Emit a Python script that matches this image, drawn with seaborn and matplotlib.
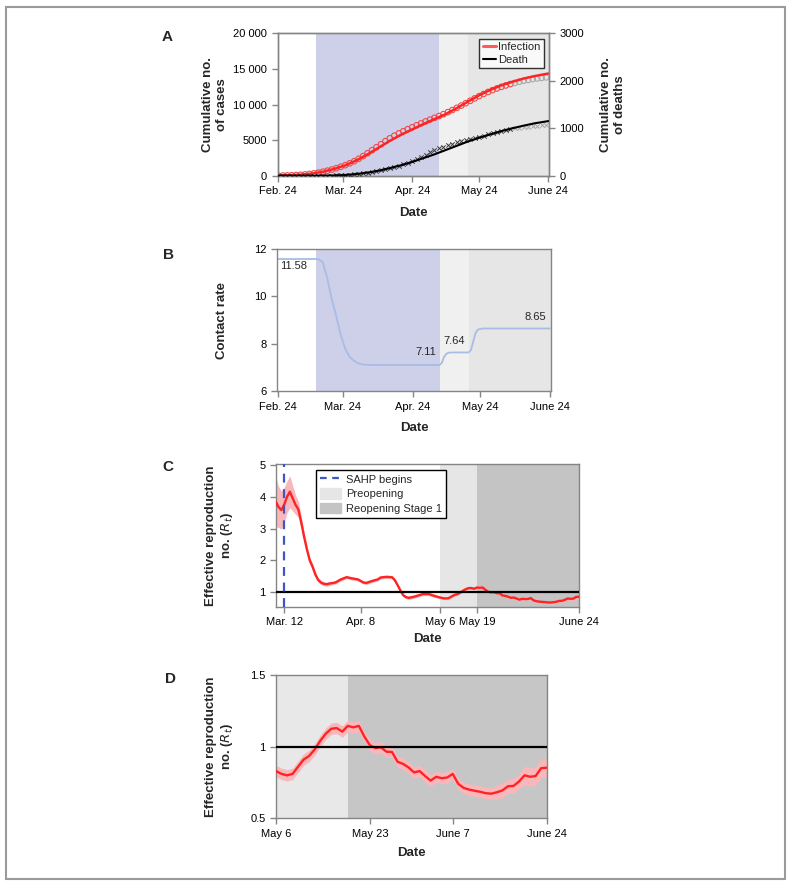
import matplotlib
matplotlib.use("Agg")
import matplotlib.pyplot as plt
import matplotlib.patches as mpatches
from matplotlib.lines import Line2D
import seaborn as sns
import pandas as pd

# ---- data ----
start = pd.Timestamp("2020-02-24")

# panel A: model fits (day offset from Feb 24)
model_days = [0, 5, 10, 15, 20, 25, 30, 35, 40, 45, 50, 55, 60, 65, 70, 75, 80,
              85, 90, 95, 100, 105, 110, 115, 121]
model_cases = [50, 80, 150, 300, 550, 950, 1450, 2150, 3000, 3950, 4900, 5750,
               6500, 7250, 7950, 8650, 9500, 10400, 11300, 12050, 12700, 13200,
               13650, 14000, 14350]
model_deaths = [0, 0, 0, 0, 0, 5, 15, 35, 65, 105, 160, 220, 290, 370, 450, 540,
                630, 720, 800, 870, 940, 1000, 1055, 1105, 1150]

# panel A: observed data, every 2 days
obs_days = list(range(0, 121, 2))
obs_cases = [0, 20, 40, 60, 90, 130, 180, 250, 330, 430, 560, 700, 860, 1050,
             1260, 1480, 1740, 2030, 2370, 2750, 3150, 3580, 4000, 4420, 4850,
             5250, 5620, 5950, 6250, 6530, 6800, 7080, 7350, 7620, 7880, 8130,
             8380, 8640, 8920, 9220, 9530, 9850, 10180, 10520, 10860, 11180,
             11480, 11760, 12020, 12260, 12480, 12680, 12870, 13040, 13200,
             13340, 13460, 13570, 13660, 13740, 13810]
obs_deaths = [0, 0, 0, 0, 0, 0, 0, 0, 0, 0, 0, 1, 3, 5, 8, 14, 20, 28, 40, 52,
              66, 80, 96, 116, 138, 160, 184, 210, 240, 270, 305, 345, 390, 440,
              490, 540, 580, 615, 645, 672, 700, 725, 752, 778, 800, 818, 842,
              868, 895, 922, 948, 968, 985, 1000, 1012, 1022, 1032, 1042, 1050,
              1060, 1068]
fit_cutoff = 106  # later data shown in grey

# panel B: contact rate
contact_days = [0, 18, 20, 22, 24, 26, 28, 30, 32, 34, 36, 38, 42, 72, 73, 74,
                75, 76, 78, 85, 86, 87, 88, 89, 91, 121]
contact_rate = [11.58, 11.58, 11.45, 10.8, 9.9, 9.2, 8.4, 7.8, 7.45, 7.28, 7.18,
                7.13, 7.11, 7.11, 7.2, 7.45, 7.58, 7.63, 7.64, 7.64, 7.75, 8.1,
                8.45, 8.6, 8.65, 8.65]

# panels C/D: effective reproduction number (day offset from Mar 12)
rt_days = [-3, -2, -1, 0, 1, 2, 3, 4, 5, 6, 7, 8, 9, 10, 11, 12, 13, 14, 15, 16,
           18, 20, 22, 24, 26, 28, 29, 31, 33, 34, 36, 38, 39, 40, 41, 42, 43,
           44, 46, 49, 51, 53] + list(range(55, 105))
rt_vals = [3.85, 3.68, 3.58, 3.75, 4.0, 4.16, 3.95, 3.75, 3.6, 3.2, 2.75, 2.35,
           2.0, 1.8, 1.55, 1.38, 1.3, 1.26, 1.25, 1.27, 1.3, 1.4, 1.47, 1.43,
           1.4, 1.3, 1.29, 1.35, 1.4, 1.46, 1.48, 1.47, 1.38, 1.22, 1.05, 0.9,
           0.84, 0.82, 0.86, 0.94, 0.94, 0.88,
           0.83, 0.81, 0.80, 0.81, 0.86, 0.91, 0.935, 0.98, 1.04, 1.09,
           1.125, 1.13, 1.105, 1.145, 1.135, 1.145, 1.07, 1.01, 0.99, 0.995,
           0.965, 0.963, 0.895, 0.88, 0.855, 0.82, 0.83, 0.795, 0.763, 0.79,
           0.78, 0.785, 0.81, 0.74, 0.712, 0.70, 0.692, 0.685, 0.675, 0.672,
           0.682, 0.695, 0.724, 0.726, 0.757, 0.80, 0.79, 0.795, 0.85, 0.853]
rt_half = [0.78, 0.65, 0.6, 0.55, 0.5, 0.5, 0.4, 0.3, 0.25, 0.2, 0.15, 0.12, 0.1,
           0.1, 0.08, 0.07, 0.07, 0.06, 0.06, 0.06, 0.05, 0.05, 0.05, 0.05, 0.05,
           0.05, 0.05, 0.05, 0.05, 0.05, 0.05, 0.05, 0.05, 0.05, 0.05, 0.05,
           0.05, 0.05, 0.05, 0.05, 0.05, 0.05] + [0.04] * 40 + [0.05] * 5 + [0.065] * 5

a_ticks = ["Feb. 24", "Mar. 24", "Apr. 24", "May 24", "June 24"]
a_tick_dates = ["2020-02-24", "2020-03-24", "2020-04-24", "2020-05-24", "2020-06-24"]
c_ticks = ["Mar. 12", "Apr. 8", "May 6", "May 19", "June 24"]
c_tick_dates = ["2020-03-12", "2020-04-08", "2020-05-06", "2020-05-19", "2020-06-24"]
d_ticks = ["May 6", "May 23", "June 7", "June 24"]
d_tick_dates = ["2020-05-06", "2020-05-23", "2020-06-07", "2020-06-24"]

sahp = pd.Timestamp("2020-03-12")
preopen = pd.Timestamp("2020-05-06")
reopen = pd.Timestamp("2020-05-19")
end = pd.Timestamp("2020-06-24")


def to_dates(base, days):
    return base + pd.to_timedelta(days, unit="D")


# ---- style ----
sns.set_style("ticks")
plt.rcParams["font.family"] = ["Liberation Sans", "DejaVu Sans"]
plt.rcParams["font.size"] = 8
SPINE = "#858585"
RED = "#ff2424"
PINK = "#f9b7bb"
LAB = dict(fontsize=9.5, fontweight="bold")

fig = plt.figure(figsize=(7.91, 8.86), dpi=100)
fig.patches.append(mpatches.Rectangle((6 / 791, 7 / 886), 779 / 791, 872 / 886,
                                      transform=fig.transFigure, fill=False,
                                      edgecolor="#9a9a9a", lw=1.5))


def style_ax(ax):
    for s in ax.spines.values():
        s.set_color(SPINE)
        s.set_linewidth(1.0)
        s.set_visible(True)
    ax.tick_params(colors=SPINE, labelcolor="black", labelsize=8, length=4, width=1)


# ---- panel A ----
axA = fig.add_axes([0.351, 0.8017, 0.343, 0.1607])
axA.axvspan(sahp, preopen, color="#cdd0e8", lw=0, zorder=0)
axA.axvspan(preopen, reopen, color="#f0f0f0", lw=0, zorder=0)
axA.axvspan(reopen, end + pd.Timedelta(days=1), color="#e6e6e6", lw=0, zorder=0)

obs_dates = to_dates(start, obs_days)
fit_mask = [d < fit_cutoff for d in obs_days]
late_mask = [not m for m in fit_mask]
sns.scatterplot(x=obs_dates[fit_mask], y=[v for v, m in zip(obs_cases, fit_mask) if m],
                ax=axA, marker="o", s=16, facecolor="none", edgecolor="#f04a4a",
                linewidth=0.8, zorder=3)
sns.scatterplot(x=obs_dates[late_mask], y=[v for v, m in zip(obs_cases, late_mask) if m],
                ax=axA, marker="o", s=16, facecolor="none", edgecolor="#a8a8a8",
                linewidth=0.8, zorder=3)
sns.lineplot(x=to_dates(start, model_days), y=model_cases, ax=axA, color=RED,
             lw=1.8, zorder=4)
axA.set_ylim(0, 20000)
axA.set_yticks([0, 5000, 10000, 15000, 20000])
axA.set_yticklabels(["0", "5000", "10 000", "15 000", "20 000"])
axA.set_xlim(start - pd.Timedelta(days=0.3), end + pd.Timedelta(days=0.3))
axA.set_xticks(pd.to_datetime(a_tick_dates))
axA.set_xticklabels(a_ticks)
axA.set_xlabel("Date", **LAB)
axA.set_ylabel("Cumulative no.\nof cases", **LAB)
axA.yaxis.set_label_coords(-0.183, 0.5)
axA.xaxis.set_label_coords(0.5, -0.218)
style_ax(axA)

ax2 = axA.twinx()
sns.scatterplot(x=obs_dates[fit_mask], y=[v for v, m in zip(obs_deaths, fit_mask) if m],
                ax=ax2, marker="x", s=10, color="#3a3a3a", linewidth=0.7, zorder=3)
sns.scatterplot(x=obs_dates[late_mask], y=[v for v, m in zip(obs_deaths, late_mask) if m],
                ax=ax2, marker="x", s=10, color="#a8a8a8", linewidth=0.7, zorder=3)
sns.lineplot(x=to_dates(start, model_days), y=model_deaths, ax=ax2, color="black",
             lw=1.5, zorder=4)
ax2.set_ylim(0, 3000)
ax2.set_yticks([0, 1000, 2000, 3000])
ax2.set_ylabel("Cumulative no.\nof deaths", **LAB)
ax2.yaxis.set_label_coords(1.188, 0.5)
style_ax(ax2)
ax2.legend(handles=[Line2D([], [], color="#ff5a5a", lw=2.2, label="Infection"),
                    Line2D([], [], color="black", lw=1.5, label="Death")],
           loc="upper right", bbox_to_anchor=(0.982, 0.96), fontsize=8,
           frameon=True, fancybox=False, edgecolor="black", handlelength=1.2,
           handletextpad=0.2, borderpad=0.3, labelspacing=0.2, borderaxespad=0)

# ---- panel B ----
axB = fig.add_axes([0.3502, 0.5583, 0.3464, 0.1606])
axB.axvspan(sahp, preopen, color="#cdd0e8", lw=0, zorder=0)
axB.axvspan(preopen, reopen, color="#f0f0f0", lw=0, zorder=0)
axB.axvspan(reopen, end + pd.Timedelta(days=1), color="#e6e6e6", lw=0, zorder=0)
sns.lineplot(x=to_dates(start, contact_days), y=contact_rate, ax=axB,
             color="#a9bce6", lw=1.3)
axB.set_ylim(6, 12)
axB.set_yticks([6, 8, 10, 12])
axB.set_xlim(start - pd.Timedelta(days=0.3), end + pd.Timedelta(days=0.6))
axB.set_xticks(pd.to_datetime(a_tick_dates))
axB.set_xticklabels(a_ticks)
axB.set_xlabel("Date", **LAB)
axB.set_ylabel("Contact rate", **LAB)
axB.yaxis.set_label_coords(-0.178, 0.5)
axB.xaxis.set_label_coords(0.5, -0.214)
for lab, d, y in [("11.58", 7, 11.3), ("7.11", 66, 7.67), ("7.64", 78.5, 8.14),
                  ("8.65", 114.6, 9.15)]:
    axB.text(start + pd.Timedelta(days=d), y, lab, ha="center", va="center", fontsize=8)
style_ax(axB)

# ---- panel C ----
axC = fig.add_axes([0.3489, 0.3152, 0.3831, 0.1607])
axC.axvspan(preopen, reopen, color="#e6e6e6", lw=0, zorder=0)
axC.axvspan(reopen, end + pd.Timedelta(days=1), color="#c4c4c4", lw=0, zorder=0)
rt_dates = to_dates(sahp, rt_days)
rt_lo = [v - h for v, h in zip(rt_vals, rt_half)]
rt_hi = [v + h for v, h in zip(rt_vals, rt_half)]
axC.fill_between(rt_dates, rt_lo, rt_hi, color=PINK, lw=0, zorder=2)
sns.lineplot(x=rt_dates, y=rt_vals, ax=axC, color=RED, lw=1.7, zorder=3)
axC.axhline(1, color="black", lw=1.6, zorder=4)
axC.axvline(sahp, color="#3b57c4", lw=1.6, ls=(0, (4, 3)), zorder=5)
axC.set_ylim(0.54, 5.02)
axC.set_yticks([1, 2, 3, 4, 5])
axC.set_xlim(sahp - pd.Timedelta(days=2.9), end)
axC.set_xticks(pd.to_datetime(c_tick_dates))
axC.set_xticklabels(c_ticks)
axC.set_xlabel("Date", **LAB)
axC.set_ylabel("Effective reproduction\nno. ($R_t$)", **LAB)
axC.yaxis.set_label_coords(-0.135, 0.5)
axC.xaxis.set_label_coords(0.5, -0.187)
axC.legend(handles=[Line2D([], [], color="#3b57c4", lw=1.6, ls=(0, (3, 2.5)),
                           label="SAHP begins"),
                    mpatches.Patch(color="#e6e6e6", label="Preopening"),
                    mpatches.Patch(color="#c4c4c4", label="Reopening Stage 1")],
           loc="upper left", bbox_to_anchor=(0.131, 0.96), fontsize=8,
           frameon=True, fancybox=False, edgecolor="black", framealpha=1,
           handlelength=1.9, handleheight=1.1, handletextpad=0.5, borderpad=0.35,
           labelspacing=0.3, borderaxespad=0)
style_ax(axC)

# ---- panel D ----
axD = fig.add_axes([0.3489, 0.0764, 0.3422, 0.1617])
axD.axvspan(preopen, reopen, color="#e8e8e8", lw=0, zorder=0)
axD.axvspan(reopen, end + pd.Timedelta(days=1), color="#c6c6c6", lw=0, zorder=0)
d_mask = [d >= 55 for d in rt_days]
d_dates = rt_dates[d_mask]
d_vals = [v for v, m in zip(rt_vals, d_mask) if m]
d_lo = [v for v, m in zip(rt_lo, d_mask) if m]
d_hi = [v for v, m in zip(rt_hi, d_mask) if m]
axD.fill_between(d_dates, d_lo, d_hi, color=PINK, lw=0, zorder=2)
sns.lineplot(x=d_dates, y=d_vals, ax=axD, color=RED, lw=1.7, zorder=3)
axD.axhline(1, color="black", lw=1.6, zorder=4)
axD.set_ylim(0.5, 1.5)
axD.set_yticks([0.5, 1, 1.5])
axD.set_yticklabels(["0.5", "1", "1.5"])
axD.set_xlim(preopen, end)
axD.set_xticks(pd.to_datetime(d_tick_dates))
axD.set_xticklabels(d_ticks)
axD.set_xlabel("Date", **LAB)
axD.set_ylabel("Effective reproduction\nno. ($R_t$)", **LAB)
axD.yaxis.set_label_coords(-0.151, 0.5)
axD.xaxis.set_label_coords(0.5, -0.198)
style_ax(axD)

for lab, x, y in [("A", 167, 37), ("B", 168, 255), ("C", 168, 467), ("D", 170, 679)]:
    fig.text(x / 791, 1 - y / 886, lab, fontsize=11, fontweight="bold",
             ha="center", va="center")

fig.savefig("out.png", dpi=100)
